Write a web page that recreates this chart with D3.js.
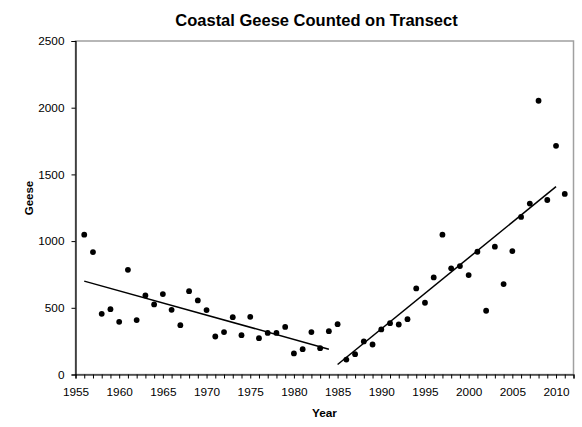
<!DOCTYPE html>
<html><head><meta charset="utf-8">
<script src="https://cdn.jsdelivr.net/npm/d3@7"></script>
<style>body{margin:0;background:#fff}svg{display:block;font-family:"Liberation Sans",Arial,sans-serif}</style>
</head><body><svg id="c" width="582" height="427"></svg>
<script>
const years = d3.range(1956, 2012);
const geese = [1048,918,455,490,395,785,408,593,525,603,485,370,625,555,
  483,285,318,430,295,432,272,312,312,357,158,190,318,197,325,
  377,112,152,248,225,338,385,375,415,645,538,728,1048,796,813,745,920,478,958,678,925,1181,1281,2052,1308,1714,1354];
const trendYearsA = [1956, 1984], trendValsA = [700, 190];
const trendYearsB = [1985, 2010], trendValsB = [75, 1408];
const yTicks = [0,500,1000,1500,2000,2500];
const xLabelYears = [1955,1960,1965,1970,1975,1980,1985,1990,1995,2000,2005,2010];
const title = "Coastal Geese Counted on Transect", xTitle = "Year", yTitle = "Geese";

const svg = d3.select("#c");
const L = 75.5, R = 573.5, T = 41, B = 374.5;
const x = d3.scaleLinear().domain([1955, 2012]).range([L, R]);
const y = d3.scaleLinear().domain([0, 2500]).range([B, T]);

svg.append("rect").attr("x", L).attr("y", T).attr("width", R - L).attr("height", B - T)
  .attr("fill", "none").attr("stroke", "#a0a0a0").attr("stroke-width", 1.5);

const ya = svg.append("g").attr("transform", `translate(${L},0)`)
  .call(d3.axisLeft(y).tickValues(yTicks).tickSize(4).tickPadding(7).tickFormat(d3.format("d")));
const xa = svg.append("g").attr("transform", `translate(0,${B})`)
  .call(d3.axisBottom(x).tickValues(d3.range(1955, 2013)).tickSize(4).tickFormat(""));
const xl = svg.append("g").attr("transform", `translate(0,${B})`)
  .call(d3.axisBottom(x).tickValues(xLabelYears).tickSize(0).tickPadding(13).tickFormat(d3.format("d")));
xl.select(".domain").remove();
[ya, xa].forEach(g => g.select(".domain").attr("stroke", "#000").attr("stroke-width", 1.2));
[ya, xa, xl].forEach(g => {
  g.selectAll("line").attr("stroke", "#000");
  g.selectAll("text").attr("fill", "#000").style("font-size", "11.8px").style("font-family", '"Liberation Sans",Arial,sans-serif');
});

const line = d3.line().x(d => x(d[0])).y(d => y(d[1]));
[[trendYearsA, trendValsA], [trendYearsB, trendValsB]].forEach(([ty, tv]) => {
  svg.append("path").datum(ty.map((t, i) => [t, tv[i]])).attr("d", line)
    .attr("fill", "none").attr("stroke", "#000").attr("stroke-width", 1.5);
});

svg.append("g").selectAll("circle").data(years.map((t, i) => [t, geese[i]])).join("circle")
  .attr("cx", d => x(d[0])).attr("cy", d => y(d[1])).attr("r", 2.9).attr("fill", "#000");

svg.append("text").attr("x", 316.5).attr("y", 25.7).attr("text-anchor", "middle")
  .style("font-size", "16.5px").style("font-weight", "bold").text(title);
svg.append("text").attr("x", 324.5).attr("y", 417).attr("text-anchor", "middle")
  .style("font-size", "11.8px").style("font-weight", "bold").text(xTitle);
svg.append("text").attr("transform", "translate(32.5,198) rotate(-90)").attr("text-anchor", "middle")
  .style("font-size", "11.5px").style("font-weight", "bold").text(yTitle);
</script></body></html>
